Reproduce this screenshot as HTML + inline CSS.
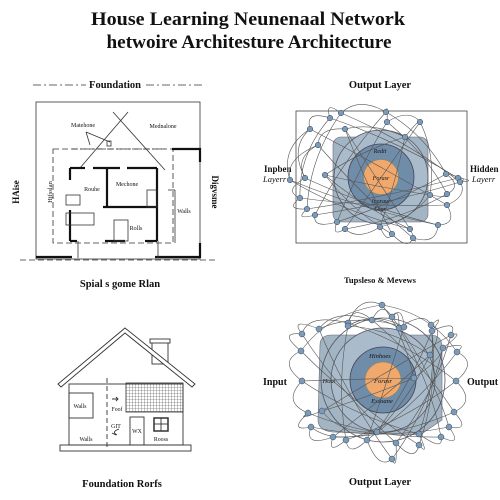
<!DOCTYPE html>
<html><head><meta charset="utf-8"><style>
html,body{margin:0;padding:0;background:#fff}
svg{display:block}
text{font-family:"Liberation Serif",serif;fill:#111}
.b{font-weight:bold}
</style></head><body>
<svg id="s" width="500" height="500" viewBox="0 0 500 500">
<rect width="500" height="500" fill="#fff"/>
<g>
<text x="248" y="25" font-size="19" class="b" text-anchor="middle" textLength="314" lengthAdjust="spacingAndGlyphs">House Learning Neunenaal Network</text>
<text x="249" y="48" font-size="19" class="b" text-anchor="middle" textLength="285" lengthAdjust="spacingAndGlyphs">hetwoire Architesture Architecture</text>
</g>

<g stroke="#333" fill="none" stroke-width="0.8">
<text x="115" y="88" font-size="10.5" class="b" text-anchor="middle" stroke="none" fill="#111">Foundation</text>
<line x1="33" y1="85" x2="86" y2="85" stroke-dasharray="8,3,2,3"/>
<line x1="146" y1="85" x2="205" y2="85" stroke-dasharray="8,3,2,3"/>
<rect x="36" y="102" width="164" height="157"/>
<rect x="53" y="149" width="120" height="94" stroke-dasharray="6,3"/>
<line x1="72" y1="149" x2="165" y2="149" stroke-dasharray="6,2,2,2"/>
<line x1="80" y1="168" x2="128" y2="112"/>
<line x1="113" y1="112" x2="165" y2="170"/>
<line x1="86" y1="132" x2="110" y2="142"/>
<line x1="86" y1="132" x2="90" y2="145"/>
<rect x="107" y="141" width="4" height="5"/>
<line x1="168" y1="190" x2="175" y2="190"/><line x1="175" y1="190" x2="175" y2="243"/>
<g stroke-width="2.2" stroke="#111">
<polyline points="36,257 72,257"/>
<polyline points="155,257 200,257 200,243"/>
<polyline points="172,149 200,149 200,162"/>
<line x1="70" y1="168" x2="85" y2="168"/><line x1="93" y1="168" x2="120" y2="168"/><line x1="127" y1="168" x2="157" y2="168"/>
<line x1="70" y1="168" x2="70" y2="180"/><line x1="70" y1="210" x2="70" y2="241"/>
<line x1="157" y1="168" x2="157" y2="241"/>
<line x1="70" y1="241" x2="77" y2="241"/><line x1="105" y1="241" x2="125" y2="241"/><line x1="145" y1="241" x2="157" y2="241"/>
<line x1="107" y1="168" x2="107" y2="207"/>
<line x1="103" y1="207" x2="157" y2="207"/>
</g>
<rect x="66" y="195" width="14" height="10"/>
<rect x="66" y="213" width="28" height="12"/>
<rect x="114" y="220" width="14" height="21"/>
<rect x="147" y="190" width="10" height="17"/>
<line x1="78" y1="241" x2="78" y2="258"/><line x1="158" y1="241" x2="158" y2="258"/>
<line x1="20" y1="260" x2="215" y2="260" stroke-dasharray="6,3"/>
<text x="120" y="287" font-size="10.5" class="b" text-anchor="middle" stroke="none" fill="#111">Spial s gome Rlan</text>
<g stroke="none" fill="#111" font-size="6">
<text x="83" y="127" text-anchor="middle">Matehone</text>
<text x="163" y="128" text-anchor="middle">Mednalone</text>
<text x="92" y="191" text-anchor="middle">Rouhe</text>
<text x="127" y="186" text-anchor="middle">Mechone</text>
<text x="136" y="230" text-anchor="middle">Rolls</text>
<text x="184" y="213" text-anchor="middle">Walls</text>
<text transform="translate(19,192) rotate(-90)" font-size="9" class="b" text-anchor="middle">HAise</text>
<text transform="translate(52,192) rotate(-90)" font-size="6.5" text-anchor="middle">Hjfsslan</text>
<text transform="translate(212,192) rotate(90)" font-size="9" class="b" text-anchor="middle">Digvsme</text>
</g>
</g>

<g stroke="#333" fill="none" stroke-width="0.9">
<defs><pattern id="grid" width="3" height="3" patternUnits="userSpaceOnUse"><path d="M3 0H0V3" stroke="#444" stroke-width="0.6" fill="none"/></pattern></defs>
<rect x="126" y="383" width="57" height="29" fill="url(#grid)" stroke="#444"/>
<rect x="152" y="342" width="16" height="22" fill="#fff"/>
<rect x="150" y="339" width="20" height="4" fill="#fff"/>
<polygon points="58,384 125,328 195,384 192,387 125,333 61,387" fill="#fff"/>
<rect x="69" y="384" width="114" height="61"/>
<rect x="69" y="393" width="24" height="25"/>
<line x1="107" y1="378" x2="107" y2="449" stroke-dasharray="5,3"/>
<rect x="130" y="417" width="14" height="28"/>
<rect x="154" y="418" width="14" height="13" stroke-width="1.5"/>
<line x1="161" y1="418" x2="161" y2="431"/><line x1="154" y1="424" x2="168" y2="424"/>
<rect x="60" y="445" width="131" height="6"/>
<path d="M112 399 h6 M116 397 l2 2 -2 2"/>
<path d="M119 429 q-8 3 -2 6 M112 433 l4 2"/>
<g stroke="none" fill="#111" font-size="5.8">
<text x="80" y="408" text-anchor="middle">Walls</text>
<text x="86" y="441" text-anchor="middle">Walls</text>
<text x="117" y="411" text-anchor="middle">Foof</text>
<text x="116" y="428" text-anchor="middle">GIT</text>
<text x="137" y="433" text-anchor="middle">WX</text>
<text x="161" y="441" text-anchor="middle">Rooss</text>
</g>
<text x="122" y="487" font-size="10.5" class="b" text-anchor="middle" stroke="none" fill="#111">Foundation Rorfs</text>
</g>

<g>
<text x="380" y="88" font-size="10.5" class="b" text-anchor="middle">Output  Layer</text>
<rect x="296" y="111" width="171" height="132" fill="none" stroke="#444" stroke-width="0.8"/>
<rect x="333" y="137" width="95" height="85" rx="8" fill="#a3b5c3" stroke="#667" stroke-width="0.6"/>
<circle cx="381" cy="177" r="47" fill="#aabccb" stroke="#556" stroke-width="0.8"/>
<circle cx="381" cy="177" r="33" fill="#6f8ca8" stroke="#445" stroke-width="0.8"/>
<circle cx="381" cy="177" r="17.5" fill="#f0a86c" stroke="#886" stroke-width="0.6"/>
<g font-style="italic" font-size="6" text-anchor="middle">
<text x="381" y="180">Forasr</text><text x="380" y="153">Redit</text><text x="381" y="203">Inoraur</text><text x="380" y="211">Laur</text>
</g>
<text x="264" y="172" font-size="9" class="b">Inpben</text>
<text x="263" y="182" font-size="8.5" font-style="italic">Layerr</text>
<text x="470" y="172" font-size="9" class="b">Hidden</text>
<text x="472" y="182" font-size="8.5" font-style="italic">Layerr</text>
<text x="380" y="283" font-size="8.5" class="b" text-anchor="middle">Tupsleso &amp; Mevews</text>
<g id="net1"></g>
</g>

<g>
<path d="M320 345 Q320 335 332 335 L430 335 Q442 335 442 347 L442 420 L420 435 L332 432 Q318 430 318 420 Z" fill="#a3b5c3" stroke="#667" stroke-width="0.6"/>
<circle cx="383" cy="380" r="62" fill="none" stroke="#556" stroke-width="0.8"/>
<circle cx="383" cy="380" r="52" fill="#aabccb" stroke="#556" stroke-width="0.8"/>
<circle cx="383" cy="380" r="33" fill="#6f8ca8" stroke="#445" stroke-width="0.8"/>
<circle cx="383" cy="380" r="18" fill="#f0a86c" stroke="#886" stroke-width="0.6"/>
<g font-style="italic" font-size="6.5" text-anchor="middle">
<text x="383" y="383">Forasr</text><text x="380" y="358">Hinhoes</text><text x="382" y="403">Essoane</text><text x="329" y="383">Houl</text>
</g>
<text x="263" y="385" font-size="10" class="b">Input</text>
<text x="467" y="385" font-size="10" class="b">Output</text>
<text x="380" y="485" font-size="10.5" class="b" text-anchor="middle">Output  Layer</text>
<g id="net2"></g>
</g>
</svg>
<script>
const nodes1X=[310,330,341,386,387,420,405,345,318,305,300,307,315,337,345,380,392,413,438,447,458,460,446,447,430,325,410,290];
const nodes1Y=[129,118,113,112,122,122,137,129,145,178,198,209,215,222,229,227,234,238,225,205,178,182,174,194,195,175,229,180];
const nodes2X=[382,348,372,392,399,431,432,451,443,457,456,454,449,441,419,419,396,392,367,346,333,311,308,302,301,302,319,404,348,430,377,322,414];
const nodes2Y=[305,323,320,317,328,325,331,335,348,352,381,412,427,437,434,445,443,459,440,440,437,427,413,381,351,334,329,327,326,355,432,411,378];
function draw(id,xs,ys,cx,cy,r,f){
  const g=document.getElementById(id);
  const ns='http://www.w3.org/2000/svg';
  const n=xs.length;
  for(let i=0;i<n;i++){
    const targets=[(i+1)%n,(i+9)%n];
    targets.forEach(t=>{
      const p=document.createElementNS(ns,'path');
      const mx=(xs[i]+xs[t])/2, my=(ys[i]+ys[t])/2;
      const qx=cx+(mx-cx)*f, qy=cy+(my-cy)*f;
      p.setAttribute('d',`M${xs[i]} ${ys[i]} Q${qx} ${qy} ${xs[t]} ${ys[t]}`);
      p.setAttribute('fill','none');p.setAttribute('stroke','#555');p.setAttribute('stroke-width','0.6');
      
      
      g.appendChild(p);
    });
  }
  for(let i=0;i<n;i++){
    const c=document.createElementNS(ns,'circle');
    c.setAttribute('cx',xs[i]);c.setAttribute('cy',ys[i]);c.setAttribute('r',r);
    c.setAttribute('fill','#7b9bb8');c.setAttribute('stroke','#345');c.setAttribute('stroke-width','0.5');
    
    
    g.appendChild(c);
  }
}
draw('net1',nodes1X,nodes1Y,381,177,2.8,1.25);
draw('net2',nodes2X,nodes2Y,383,380,3,1.3);
</script>
</body></html>
